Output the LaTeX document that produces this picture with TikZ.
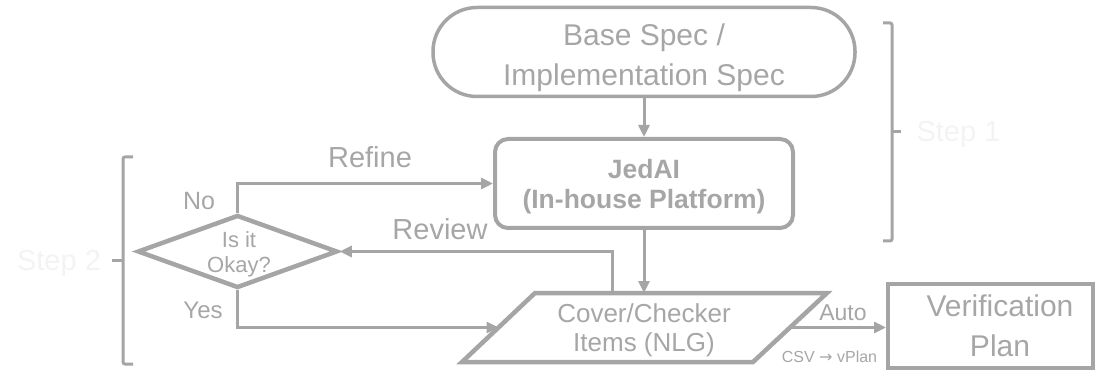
\documentclass[tikz,border=0pt]{standalone}
\usepackage{fontspec}
\setmainfont{Liberation Sans}
\newfontfamily\arrowfont{DejaVu Sans}
\usetikzlibrary{arrows.meta,shapes.geometric,calc}
\definecolor{linegray}{HTML}{A5A5A5}
\definecolor{textgray}{HTML}{A6A6A6}
\definecolor{stepgray}{HTML}{F3F3F3}
\newcommand\fsz[2]{\fontsize{#1}{#2}\selectfont}
\begin{document}
\begin{tikzpicture}[x=1pt,y=-1pt,
  conn/.style={draw=linegray, line width=3pt, -{Triangle[length=12pt,width=11pt]}},
  shapeline/.style={draw=linegray, line width=4pt},
  bracket/.style={draw=linegray, line width=3pt},
  txt/.style={text=textgray, inner sep=0pt, align=center},
  steptxt/.style={text=stepgray, inner sep=0pt, font=\fsz{29}{34}}]

\clip (0,0) rectangle (1097,371);
\useasboundingbox (0,0) rectangle (1097,371);

% --- shapes ---
\node[shapeline, line width=3.5pt, rectangle, rounded corners=44pt,
      minimum width=422pt, minimum height=89pt, inner sep=0pt] (base) at (644,52) {};
\node[txt, font=\fsz{30}{40}] (baseT) at (644,57.5) {Base Spec /\\Implementation Spec};

\node[shapeline, rectangle, rounded corners=13pt,
      minimum width=298pt, minimum height=89pt, inner sep=0pt] (jedai) at (644,183.5) {};
\node[txt, font=\bfseries\fsz{26.5}{30}] (jedaiT) at (644,186.3) {JedAI\\(In-house Platform)};

\node[shapeline, line width=4.5pt, diamond, minimum width=200pt, minimum height=73pt,
      inner sep=0pt] (ok) at (237.5,251.5) {};
\node[txt, font=\fsz{22}{25}] (okT) at (239,253.9) {Is it\\Okay?};

\coordinate (pBL) at (462,362);
\coordinate (pTL) at (535,293);
\coordinate (pTR) at (827,293);
\coordinate (pBR) at (753,362);
\draw[linegray, line width=4.5pt, line join=miter] (pBL) -- (pTL) -- (pTR) -- (pBR) -- cycle;
\node[txt, font=\fsz{26}{29}] (items) at (644,330.7) {Cover/Checker\\Items (NLG)};

\node[shapeline, rectangle, minimum width=205pt, minimum height=84pt, inner sep=0pt] (vplan) at (990.5,326) {};
\node[txt, font=\fsz{30}{40}] (vplanT) at (1000,326) {Verification\\Plan};

% --- connectors ---
\coordinate (pL) at ($(pBL)!0.5!(pTL)$);
\coordinate (pR) at ($(pBR)!0.5!(pTR)$);
\coordinate (revStart) at (612,293);

\draw[conn] (base) -- (jedai);
\draw[conn] (jedai) -- (jedai |- pTL);
\draw[conn] (revStart) |- (ok.east);
\draw[conn] (ok.north) |- (jedai.west);
\draw[conn] (ok.south) |- (pL);
\draw[conn] (pR) -- (pR -| vplan.west);

% --- labels ---
\node[txt, font=\fsz{29}{34}, anchor=base] (refineL) at (370,168) {Refine};
\node[txt, font=\fsz{29}{34}, anchor=base] (reviewL) at (440,240) {Review};
\node[txt, font=\fsz{25}{30}, anchor=base] (noL) at (199,210) {No};
\node[txt, font=\fsz{24}{29}, anchor=base] (yesL) at (203,318) {Yes};
\node[txt, font=\fsz{23}{28}, anchor=base] (autoL) at (843,320) {Auto};
\node[txt, font=\fsz{16}{19}, anchor=base] (csvL) at (829.5,362) {CSV {\arrowfont →} vPlan};

% --- step brackets ---
\draw[bracket, rounded corners=2pt] (883,23) -- (892,23) -- (892,241) -- (883,241);
\draw[bracket] (892,132) -- (901,132);
\node[steptxt, anchor=base] (step1) at (958.5,142) {Step 1};

\draw[bracket, rounded corners=2pt] (133,157) -- (123,157) -- (123,364) -- (133,364);
\draw[bracket] (123,261) -- (112,261);
\node[steptxt, anchor=base] (step2) at (59,270) {Step 2};
\end{tikzpicture}
\end{document}
